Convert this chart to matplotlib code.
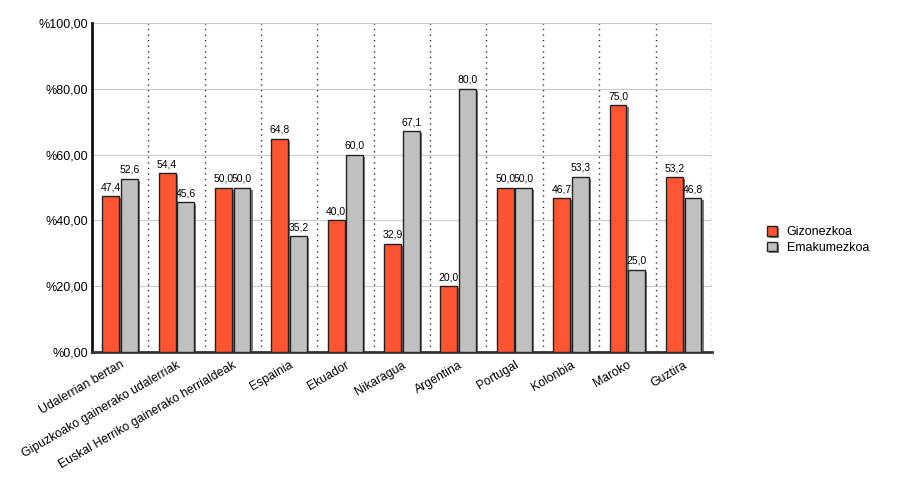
import numpy as np
import matplotlib.pyplot as plt
from matplotlib.ticker import FuncFormatter
import matplotlib.patheffects as pe

plt.rcParams['font.family'] = ['Liberation Sans', 'DejaVu Sans']

categorias = ["Udalerrian bertan", "Gipuzkoako gainerako udalerriak",
              "Euskal Herriko gainerako herrialdeak", "Espainia", "Ekuador",
              "Nikaragua", "Argentina", "Portugal", "Kolonbia", "Maroko", "Guztira"]
gizonezkoa = [47.4, 54.4, 50.0, 64.8, 40.0, 32.9, 20.0, 50.0, 46.7, 75.0, 53.2]
emakumezkoa = [52.6, 45.6, 50.0, 35.2, 60.0, 67.1, 80.0, 50.0, 53.3, 25.0, 46.8]

fig = plt.figure(figsize=(9, 5), dpi=100)
ax = fig.add_axes([0.102, 0.296, 0.689, 0.658])

x = np.arange(len(categorias))
w = 0.3
sombra = [pe.SimplePatchShadow(offset=(1.5, -1.5), shadow_rgbFace='#444444', alpha=0.7), pe.Normal()]

b1 = ax.bar(x - w / 2 - 0.015, gizonezkoa, w, color='#FF5533', edgecolor='#222222',
            linewidth=1.0, label='Gizonezkoa', zorder=3)
b2 = ax.bar(x + w / 2 + 0.015, emakumezkoa, w, color='#C0C0C0', edgecolor='#222222',
            linewidth=1.0, label='Emakumezkoa', zorder=3)
for b in list(b1) + list(b2):
    b.set_path_effects(sombra)

# etiquetas de valores
for xi, v in zip(x - w / 2 - 0.015, gizonezkoa):
    ax.text(xi, v + 1.2, f"{v:.1f}".replace('.', ','), ha='center', va='bottom', fontsize=7.5, zorder=4)
for xi, v in zip(x + w / 2 + 0.015, emakumezkoa):
    ax.text(xi, v + 1.2, f"{v:.1f}".replace('.', ','), ha='center', va='bottom', fontsize=7.5, zorder=4)

ax.set_xlim(-0.5, len(categorias) - 0.5)
ax.set_ylim(0, 100)
ax.set_yticks(np.arange(0, 101, 20))
ax.yaxis.set_major_formatter(FuncFormatter(lambda v, p: f"%{v:.2f}".replace('.', ',')))
ax.grid(axis='y', color='#CCCCCC', linewidth=0.8, zorder=0)
for xv in np.arange(0.5, len(categorias), 1):
    ax.axvline(xv, color='#333333', linestyle=(0, (1, 3)), linewidth=1.0, zorder=1)

ax.set_xticks(x)
ax.set_xticklabels(categorias, rotation=30, ha='right', rotation_mode='anchor', fontsize=8.8)
ax.tick_params(axis='x', length=0, pad=5)
ax.tick_params(axis='y', length=0, labelsize=9, pad=3)

for s in ['top', 'right']:
    ax.spines[s].set_visible(False)
ax.spines['left'].set_linewidth(2)
ax.spines['left'].set_color('#111111')
ax.spines['bottom'].set_linewidth(2)
ax.spines['bottom'].set_color('#333333')

leg = fig.legend(handles=[b1, b2], loc='center left', bbox_to_anchor=(0.845, 0.52), frameon=False,
                 fontsize=9, handlelength=0.8, handleheight=0.8, handletextpad=0.8,
                 labelspacing=0.25, borderpad=0)
for h in leg.legend_handles:
    h.set_path_effects(sombra)

plt.savefig("out.png", dpi=100)
